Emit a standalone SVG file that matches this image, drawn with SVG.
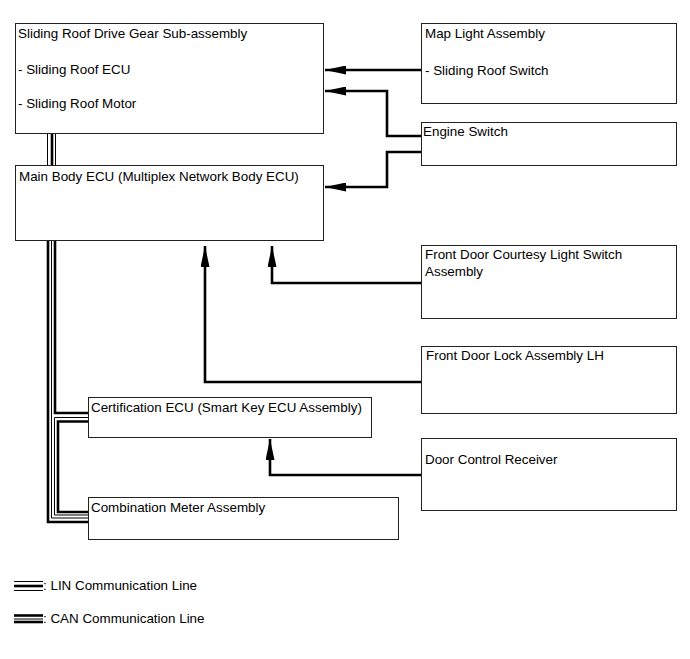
<svg xmlns="http://www.w3.org/2000/svg" width="690" height="659" viewBox="0 0 690 659">
<defs>
<style>
.box{fill:#fff;stroke:#222;stroke-width:1}
.t{font-family:"Liberation Sans",Arial,sans-serif;font-size:13.4px;fill:#000}
.c{fill:none;stroke:#000;stroke-width:2.6}
.bk{fill:none;stroke:#000;stroke-width:2.6}
.bn{fill:none;stroke:#000;stroke-width:1}
</style>
<marker id="ah" viewBox="0 0 21 9" refX="21" refY="4.5" markerWidth="21" markerHeight="9" markerUnits="userSpaceOnUse" orient="auto">
<path d="M0,0 L21,4.5 L0,9 Z" fill="#000"/>
</marker>
</defs>
<rect width="690" height="659" fill="#fff"/>
<g id="connectors">
<path class="c" d="M421,70 H325" marker-end="url(#ah)"/>
<path class="c" d="M421,136 H387 V91 H325" marker-end="url(#ah)"/>
<path class="c" d="M421,152 H387 V187 H325" marker-end="url(#ah)"/>
<path class="c" d="M421,283 H272 V246" marker-end="url(#ah)"/>
<path class="c" d="M421,382 H205 V246" marker-end="url(#ah)"/>
<path class="c" d="M421,475 H270 V439" marker-end="url(#ah)"/>
<!-- LIN bus -->
<path class="bn" d="M47.5,133 V165"/>
<path class="bk" d="M52,133 V165"/>
<path class="bn" d="M55.5,133 V165"/>
<!-- CAN bus -->
<path class="bk" d="M48,240 V522 H88"/>
<path class="bn" d="M51.5,240 V518 H88"/>
<path class="bk" d="M55,240 V413 H88"/>
<path class="bn" d="M88,417.5 H54.5 V515 H88"/>
<path class="bk" d="M88,421.5 H58 V512 H88"/>
</g>
<g id="sliding-roof">
<rect class="box" x="15.5" y="23.5" width="308" height="110"/>
<text class="t" x="18" y="38">Sliding Roof Drive Gear Sub-assembly</text>
<text class="t" x="18" y="74">- Sliding Roof ECU</text>
<text class="t" x="18" y="108">- Sliding Roof Motor</text>
</g>
<g id="main-body">
<rect class="box" x="15.5" y="165.5" width="308" height="75"/>
<text class="t" x="19" y="181">Main Body ECU (Multiplex Network Body ECU)</text>
</g>
<g id="map-light">
<rect class="box" x="421.5" y="23.5" width="255" height="80"/>
<text class="t" x="425" y="38">Map Light Assembly</text>
<text class="t" x="425" y="75">- Sliding Roof Switch</text>
</g>
<g id="engine-switch">
<rect class="box" x="421.5" y="122.5" width="255" height="43"/>
<text class="t" x="423" y="136">Engine Switch</text>
</g>
<g id="courtesy">
<rect class="box" x="421.5" y="245.5" width="255" height="73"/>
<text class="t" x="425" y="259">Front Door Courtesy Light Switch</text>
<text class="t" x="425" y="276">Assembly</text>
</g>
<g id="door-lock">
<rect class="box" x="421.5" y="346.5" width="255" height="67"/>
<text class="t" x="426" y="360">Front Door Lock Assembly LH</text>
</g>
<g id="door-receiver">
<rect class="box" x="421.5" y="438.5" width="255" height="72"/>
<text class="t" x="425" y="464">Door Control Receiver</text>
</g>
<g id="certification">
<rect class="box" x="88.5" y="397.5" width="283" height="40"/>
<text class="t" x="91" y="412">Certification ECU (Smart Key ECU Assembly)</text>
</g>
<g id="combination-meter">
<rect class="box" x="88.5" y="497.5" width="310" height="42"/>
<text class="t" x="91" y="512">Combination Meter Assembly</text>
</g>
<g id="legend">
<path class="bn" d="M14,581.5 H43"/>
<path class="bk" d="M14,586 H43"/>
<path class="bn" d="M14,590.5 H43"/>
<path class="bk" d="M14,615.5 H43"/>
<path class="bn" d="M14,619 H43"/>
<path class="bk" d="M14,622 H43"/>
<text class="t" x="43" y="590">: LIN Communication Line</text>
<text class="t" x="43" y="623">: CAN Communication Line</text>
</g>
</svg>
